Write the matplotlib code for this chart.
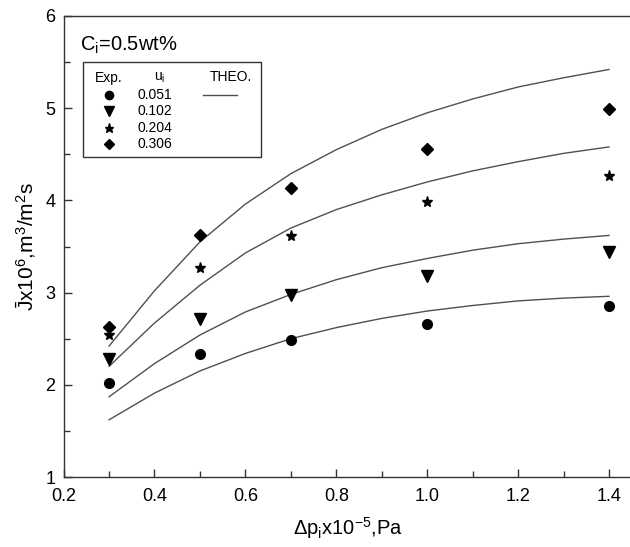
import matplotlib
matplotlib.use('Agg')
import matplotlib.pyplot as plt
from matplotlib.patches import Rectangle

plt.rcParams['font.family'] = ['Liberation Sans', 'DejaVu Sans']
plt.rcParams['mathtext.fontset'] = 'custom'
plt.rcParams['mathtext.rm'] = 'Liberation Sans'
plt.rcParams['mathtext.it'] = 'Liberation Sans'
plt.rcParams['mathtext.bf'] = 'Liberation Sans:bold'

# experimental points
dp_exp = [0.3, 0.5, 0.7, 1.0, 1.4]
j_051 = [2.02, 2.33, 2.49, 2.66, 2.85]
j_102 = [2.28, 2.71, 2.97, 3.18, 3.44]
j_204 = [2.54, 3.27, 3.61, 3.98, 4.27]
j_306 = [2.63, 3.63, 4.13, 4.56, 4.99]

# theoretical curves
dp_theo = [0.3, 0.4, 0.5, 0.6, 0.7, 0.8, 0.9, 1.0, 1.1, 1.2, 1.3, 1.4]
theo_051 = [1.62, 1.91, 2.15, 2.34, 2.50, 2.62, 2.72, 2.80, 2.86, 2.91, 2.94, 2.96]
theo_102 = [1.87, 2.23, 2.54, 2.79, 2.98, 3.14, 3.27, 3.37, 3.46, 3.53, 3.58, 3.62]
theo_204 = [2.20, 2.67, 3.08, 3.43, 3.70, 3.90, 4.06, 4.20, 4.32, 4.42, 4.51, 4.58]
theo_306 = [2.42, 3.02, 3.55, 3.96, 4.29, 4.55, 4.77, 4.95, 5.10, 5.23, 5.33, 5.42]

u_labels = ['0.051', '0.102', '0.204', '0.306']
markers = ['o', 'v', '*', 'D']
msizes = [7, 8, 8, 6.5]

W, H = 630, 547
fig = plt.figure(figsize=(W / 100, H / 100), dpi=100)
ax = fig.add_axes([63.6 / W, (H - 477) / H, 568.1 / W, 461 / H])

line_col = '#505050'
for t in [theo_051, theo_102, theo_204, theo_306]:
    ax.plot(dp_theo, t, '-', color=line_col, lw=1.0, solid_joinstyle='round')
for j, m, s in zip([j_051, j_102, j_204, j_306], markers, msizes):
    ax.plot(dp_exp, j, linestyle='none', marker=m, color='black', markersize=s)

ax.set_xlim(0.2, 1.45)
ax.set_ylim(1, 6)
ax.set_xticks([0.2, 0.4, 0.6, 0.8, 1.0, 1.2, 1.4])
ax.set_xticklabels(['0.2', '0.4', '0.6', '0.8', '1.0', '1.2', '1.4'])
ax.set_yticks([1, 2, 3, 4, 5, 6])
ax.set_xticks([0.3, 0.5, 0.7, 0.9, 1.1, 1.3], minor=True)
ax.set_yticks([1.5, 2.5, 3.5, 4.5, 5.5], minor=True)
ax.tick_params(which='both', direction='in', top=False, right=False,
               labelsize=13, width=1.0, color='#333333')
ax.tick_params(which='major', length=6)
ax.tick_params(axis='x', which='major', pad=8)
ax.tick_params(axis='y', which='major', pad=6)
ax.tick_params(which='minor', length=4)
for sp in ax.spines.values():
    sp.set_linewidth(1.0)
    sp.set_color('#333333')

ax.set_xlabel(r'$\Delta$p$_{\mathrm{i}}$x10$^{-5}$,Pa', fontsize=14.5, labelpad=7)
ax.set_ylabel(r'$\bar{\mathrm{J}}$x10$^{6}$,m$^{3}$/m$^{2}$s', fontsize=15, labelpad=5)

# annotation and hand-made legend box (figure pixel coordinates)
def fx(px):
    return px / W

def fy(py):
    return 1 - py / H

fig.text(fx(80), fy(45), r'C$_{\mathrm{i}}$=0.5wt%', fontsize=14.5, va='center', ha='left')
fig.patches.append(Rectangle((fx(83), fy(157)), fx(261) - fx(83), fy(62) - fy(157),
                             transform=fig.transFigure, fill=False, lw=1.0,
                             edgecolor='#333333'))
fig.text(fx(109), fy(78), 'Exp.', fontsize=10, ha='center', va='center')
fig.text(fx(160), fy(78), r'u$_{\mathrm{i}}$', fontsize=10, ha='center', va='center')
fig.text(fx(231), fy(77), 'THEO.', fontsize=10, ha='center', va='center')
row_y = [94.5, 111, 127.5, 144]
for lab, m, s, ry in zip(u_labels, markers, msizes, row_y):
    fig.add_artist(plt.Line2D([fx(109)], [fy(ry)], marker=m, color='black',
                              markersize=s * 0.85, linestyle='none'))
    fig.text(fx(138), fy(ry), lab, fontsize=10, ha='left', va='center')
fig.add_artist(plt.Line2D([fx(203), fx(237)], [fy(94.5), fy(94.5)], color=line_col, lw=1.0))

fig.savefig('out.png', dpi=100)
